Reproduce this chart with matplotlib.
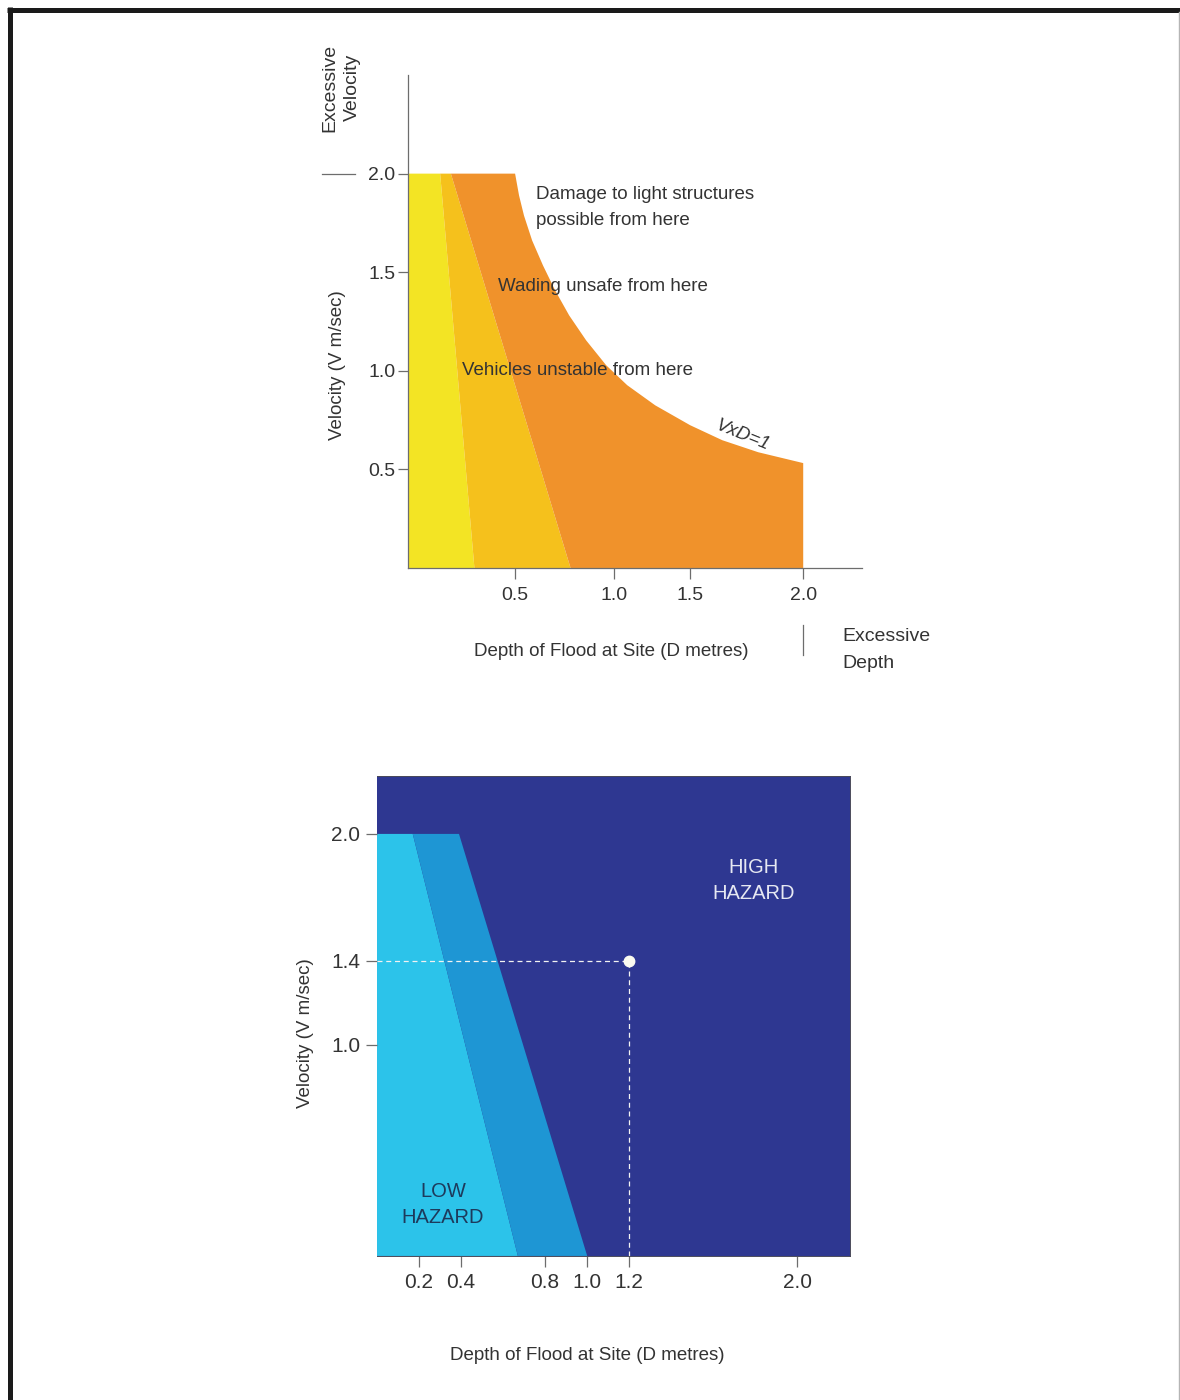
import numpy as np
import matplotlib
matplotlib.use('Agg')
import matplotlib.pyplot as plt
import matplotlib.transforms as mtransforms
from matplotlib.lines import Line2D

plt.rcParams['font.family'] = ['Liberation Sans Narrow', 'Liberation Sans', 'DejaVu Sans']

# %% Daten
# oberes Diagramm: Zonen Tiefe D (m) gegen Geschwindigkeit V (m/s)
yellow_d = [0, 0, 0.15, 0.31]
yellow_v = [0, 2.0, 2.0, 0]
amber_d = [0.15, 0.2, 0.78, 0.31]
amber_v = [2.0, 2.0, 0, 0]
# Grenzkurve VxD=1 wie im Bild gezeichnet
curve_d = [0.5, 0.52, 0.545, 0.586, 0.641, 0.702, 0.773, 0.859, 0.96, 1.086, 1.27,
           1.5, 1.642, 1.801, 2.0]
curve_v = [2.0, 1.889, 1.787, 1.661, 1.534, 1.408, 1.281, 1.154, 1.028, 0.927, 0.825,
           0.724, 0.648, 0.587, 0.532]
top_xticks = [0.5, 1.0, 1.5, 2.0]
top_yticks = [0.5, 1.0, 1.5, 2.0]
# die Tiefenachse oben ist in der Vorlage ungleichmaessig geteilt
axis_d = [0, 0.5, 1.0, 1.5, 2.0, 2.5]
axis_pos = [0, 107, 206, 282, 395, 508]

# unteres Diagramm
low_d = [0, 0, 0.17, 0.67]
low_v = [0, 2.0, 2.0, 0]
mid_d = [0.17, 0.39, 1.0, 0.67]
mid_v = [2.0, 2.0, 0, 0]
site_d = 1.2
site_v = 1.4
bot_xticks = [0.2, 0.4, 0.8, 1.0, 1.2, 2.0]
bot_yticks = [1.0, 1.4, 2.0]

txt = '#333333'
grey = '#6d6d6d'

fig = plt.figure(figsize=(11.8, 14), dpi=100)

# %% oberes Diagramm
ax1 = fig.add_axes([0.3458, 0.5943, 0.3847, 0.3521])


def fwd(d):
    return np.interp(d, axis_d, axis_pos)


def inv(p):
    return np.interp(p, axis_pos, axis_d)


ax1.set_xscale('function', functions=(fwd, inv))
ax1.fill(yellow_d, yellow_v, color='#f3e424', lw=0)
ax1.fill(amber_d, amber_v, color='#f5c11c', lw=0)
ax1.fill([0.2] + curve_d + [2.0, 0.78], [2.0] + curve_v + [0, 0], color='#f0922b', lw=0)
ax1.set_xlim(0, 2.26)
ax1.set_ylim(0, 2.5)
ax1.set_xticks(top_xticks)
ax1.set_xticklabels(['%.1f' % t for t in top_xticks])
ax1.set_yticks(top_yticks)
ax1.set_yticklabels(['%.1f' % t for t in top_yticks])
for s in ['top', 'right']:
    ax1.spines[s].set_visible(False)
for s in ['left', 'bottom']:
    ax1.spines[s].set_color(grey)
    ax1.spines[s].set_linewidth(0.9)
ax1.tick_params(axis='x', direction='out', length=8, width=0.9, color=grey,
                labelsize=14, labelcolor=txt, pad=6)
ax1.tick_params(axis='y', direction='out', length=7, width=0.9, color=grey,
                labelsize=14, labelcolor=txt, pad=2)

ax1.set_xlabel('Depth of Flood at Site (D metres)', fontsize=13.5, color=txt, va='center')
ax1.xaxis.set_label_coords(0.447, -0.170)
ax1.set_ylabel('Velocity (V m/sec)', fontsize=13.5, color=txt, va='center')
ax1.yaxis.set_label_coords(-0.156, 0.412)

ax1.text(0.606, 1.83, 'Damage to light structures\npossible from here', fontsize=13.5,
         color=txt, ha='left', va='center', linespacing=1.7)
ax1.text(0.42, 1.43, 'Wading unsafe from here', fontsize=13.5, color=txt, ha='left', va='center')
ax1.text(0.252, 1.0, 'Vehicles unstable from here', fontsize=13.5, color=txt, ha='left', va='center')
ax1.text(1.73, 0.67, 'VxD=1', fontsize=13.5, color=txt, style='italic', rotation=-22,
         ha='center', va='center')

# Zusatzmarken "Excessive ..."
tr_y = mtransforms.blended_transform_factory(ax1.transAxes, ax1.transData)
ax1.plot([-0.189, -0.117], [2.0, 2.0], transform=tr_y, clip_on=False, color=grey, lw=0.9)
ax1.text(-0.148, 0.974, 'Excessive\nVelocity', transform=ax1.transAxes, rotation=90,
         fontsize=14, color=txt, ha='center', va='center', linespacing=1.4)
tr_x = mtransforms.blended_transform_factory(ax1.transData, ax1.transAxes)
ax1.plot([2.0, 2.0], [-0.116, -0.176], transform=tr_x, clip_on=False, color=grey, lw=0.9)
ax1.text(0.956, -0.166, 'Excessive\nDepth', transform=ax1.transAxes, fontsize=14,
         color=txt, ha='left', va='center', linespacing=1.75)

# %% unteres Diagramm
ax2 = fig.add_axes([0.3195, 0.1029, 0.4008, 0.3429])
ax2.set_facecolor('#2e3791')
ax2.fill(low_d, low_v, color='#2cc3ea', lw=0)
ax2.fill(mid_d, mid_v, color='#1e96d4', lw=0)
ax2.plot([0, site_d], [site_v, site_v], color='#f2f2f2', lw=0.9, dashes=(4, 3))
ax2.plot([site_d, site_d], [0, site_v], color='#f2f2f2', lw=0.9, dashes=(4, 3))
ax2.plot([site_d], [site_v], 'o', color='#fbfbf0', markersize=7.5)
ax2.set_xlim(0, 2.25)
ax2.set_ylim(0, 2.275)
ax2.set_xticks(bot_xticks)
ax2.set_xticklabels(['%.1f' % t for t in bot_xticks])
ax2.set_yticks(bot_yticks)
ax2.set_yticklabels(['%.1f' % t for t in bot_yticks])
for s in ax2.spines.values():
    s.set_color('#4a4a5a')
    s.set_linewidth(0.7)
ax2.spines['left'].set_visible(False)
ax2.tick_params(axis='both', direction='out', length=8, width=0.9, color=grey,
                labelsize=15, labelcolor=txt, pad=4)

ax2.text(1.79, 1.78, 'HIGH\nHAZARD', fontsize=14.5, color='#e6e8f2', ha='center',
         va='center', linespacing=1.45)
ax2.text(0.314, 0.242, 'LOW\nHAZARD', fontsize=14.5, color='#1d3a5c', ha='center',
         va='center', linespacing=1.45)

ax2.set_xlabel('Depth of Flood at Site (D metres)', fontsize=13.5, color=txt, va='center')
ax2.xaxis.set_label_coords(0.444, -0.208)
ax2.set_ylabel('Velocity (V m/sec)', fontsize=13.5, color=txt, va='center')
ax2.yaxis.set_label_coords(-0.152, 0.465)

# %% Rahmen
fig.add_artist(Line2D([9.5 / 1180, 9.5 / 1180], [0, 1 - 7 / 1400], transform=fig.transFigure,
                      color='#1a1a1a', lw=3.6, solid_capstyle='butt'))
fig.add_artist(Line2D([7 / 1180, 1], [1 - 9.5 / 1400, 1 - 9.5 / 1400], transform=fig.transFigure,
                      color='#1a1a1a', lw=3.6, solid_capstyle='butt'))
fig.add_artist(Line2D([1178.5 / 1180, 1178.5 / 1180], [0, 1 - 12 / 1400], transform=fig.transFigure,
                      color='#b5b5b5', lw=1))

fig.savefig('out.png', dpi=100)
